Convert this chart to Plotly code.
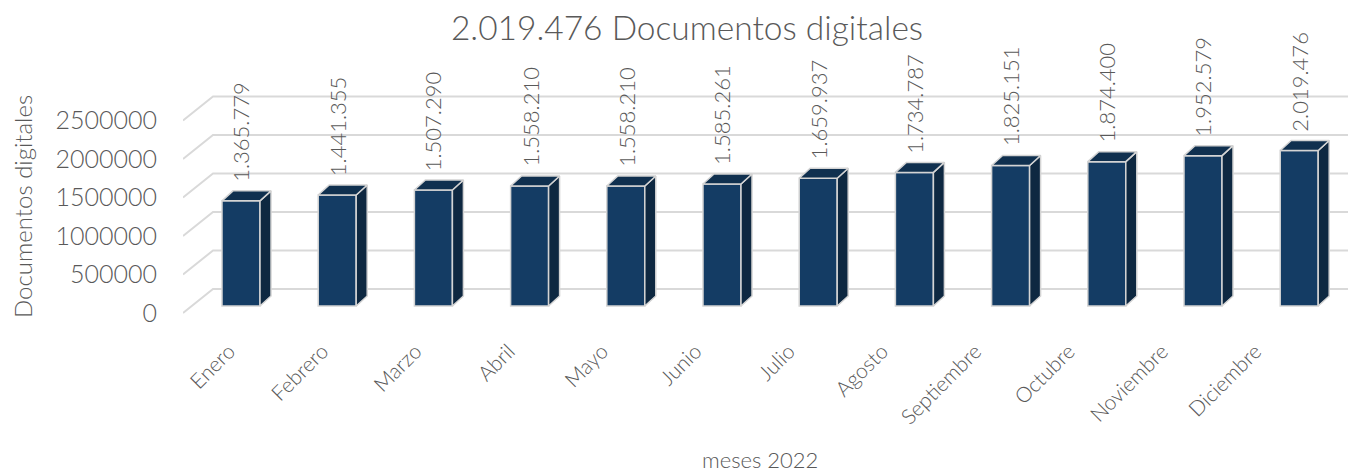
import plotly.graph_objects as go

# ---------------- data ----------------
months = ["Enero", "Febrero", "Marzo", "Abril", "Mayo", "Junio", "Julio",
          "Agosto", "Septiembre", "Octubre", "Noviembre", "Diciembre"]
documents = [1365779, 1441355, 1507290, 1558210, 1558210, 1585261, 1659937,
             1734787, 1825151, 1874400, 1952579, 2019476]
y_ticks = [0, 500000, 1000000, 1500000, 2000000, 2500000]

title_text = "2.019.476 Documentos digitales"
y_title = "Documentos digitales"
x_title = "meses 2022"

# ---------------- style / geometry ----------------
FONT = "Lato"
TXT = "#595959"
GRID = "#D9D9D9"
FRONT = "#143C64"
SIDE = "#0E2841"
TOP = "#10304F"
EDGE = "#D4D4D4"

OFF = 8                      # page body margin of the html page
W, H = 1356 - OFF, 473 - OFF
PLOT_LEFT, PLOT_RIGHT, PLOT_TOP, PLOT_BOTTOM = 183, 1356, 40, 322   # page pixels
L = PLOT_LEFT - OFF
R = W - (PLOT_RIGHT - OFF)
T = PLOT_TOP - OFF
B = H - (PLOT_BOTTOM - OFF)
PW, PH = W - L - R, H - T - B

PX_PER_UNIT_Y = 77e-6      # pixels per document
PX_PER_CAT = 96.2           # pixels per category
FIRST_BAR = 241             # page pixel of first bar centre
ZERO_Y = 313                # page pixel of value 0 on the front wall

def py(px):   # pixel offset -> y data units
    return px / PX_PER_UNIT_Y
def pxc(px):  # pixel offset -> x data units
    return px / PX_PER_CAT

bar_w = pxc(38)
depth_x = pxc(11)
depth_y = py(10)
bar_base = py(7)
wall_dx = pxc(30)
wall_dy = py(24)

x_left = pxc(PLOT_LEFT - FIRST_BAR)
x_right = pxc(PLOT_RIGHT - FIRST_BAR)
y_min = -py(PLOT_BOTTOM - ZERO_Y)
y_max = py(ZERO_Y - PLOT_TOP)

idx = list(range(len(months)))

def fmt(v):
    return f"{v:,}".replace(",", ".")

def paper_x(px):   # page pixel -> paper
    return (px - PLOT_LEFT) / PW
def paper_y(px):
    return (PLOT_BOTTOM - px) / PH

fig = go.Figure()

# front faces
fig.add_trace(go.Bar(
    x=idx, y=documents, base=bar_base, width=bar_w,
    marker=dict(color=FRONT, line=dict(color=EDGE, width=1.5)),
    hoverinfo="skip", showlegend=False))

# side faces
sx, sy = [], []
for i, v in zip(idx, documents):
    r = i + bar_w / 2
    top = bar_base + v
    sx += [r, r, r + depth_x, r + depth_x, r, None]
    sy += [bar_base, top, top + depth_y, bar_base + depth_y, bar_base, None]
fig.add_trace(go.Scatter(x=sx, y=sy, mode="lines", fill="toself",
                         fillcolor=SIDE, line=dict(color=EDGE, width=1.5),
                         hoverinfo="skip", showlegend=False))
# top faces
tx, ty = [], []
for i, v in zip(idx, documents):
    l = i - bar_w / 2
    r = i + bar_w / 2
    top = bar_base + v
    tx += [l, r, r + depth_x, l + depth_x, l, None]
    ty += [top, top, top + depth_y, top + depth_y, top, None]
fig.add_trace(go.Scatter(x=tx, y=ty, mode="lines", fill="toself",
                         fillcolor=TOP, line=dict(color=EDGE, width=1.5),
                         hoverinfo="skip", showlegend=False))

# gridlines (left wall diagonal + back wall horizontal)
shapes = []
for t in y_ticks:
    shapes.append(dict(type="path", xref="x", yref="y", layer="below",
                       path=f"M {x_left},{t} L {x_left + wall_dx},{t + wall_dy} L {x_right},{t + wall_dy}",
                       line=dict(color=GRID, width=2)))

# data labels
annotations = []
for i, v in zip(idx, documents):
    annotations.append(dict(x=i, y=bar_base + v + depth_y, xref="x", yref="y",
                            text=fmt(v), textangle=-90, showarrow=False,
                            xanchor="center", yanchor="bottom", yshift=7,
                            font=dict(family=FONT, size=22, color=TXT, weight=300)))

# axis titles
annotations.append(dict(x=paper_x(22), y=paper_y(207), xref="paper", yref="paper",
                        text=y_title, textangle=-90, showarrow=False,
                        xanchor="center", yanchor="middle",
                        font=dict(family=FONT, size=24, color=TXT, weight=300)))
annotations.append(dict(x=paper_x(760), y=paper_y(459), xref="paper", yref="paper",
                        text=x_title, showarrow=False,
                        xanchor="center", yanchor="middle",
                        font=dict(family=FONT, size=22, color=TXT, weight=300)))

# second x axis for the category labels (slight perspective compression)
lab_scale = 93.3
lab_start = 229          # page pixel of first label anchor
lab_r0 = (PLOT_LEFT - lab_start) / lab_scale
lab_r1 = lab_r0 + PW / lab_scale
fig.add_trace(go.Scatter(x=idx, y=[None] * len(idx), xaxis="x2", mode="markers",
                         hoverinfo="skip", showlegend=False))

fig.update_layout(
    width=W, height=H,
    margin=dict(l=L, r=R, t=T, b=B, autoexpand=False),
    paper_bgcolor="white", plot_bgcolor="white",
    font=dict(family=FONT, color=TXT, weight=300),
    title=dict(text=title_text, x=(687 - OFF) / W, xanchor="center",
               y=1 - (28 - OFF) / H, yanchor="middle",
               font=dict(family=FONT, size=33.5, color=TXT, weight=300)),
    xaxis=dict(range=[x_left, x_right], showgrid=False, zeroline=False,
               showline=False, showticklabels=False, ticks="", automargin=False),
    xaxis2=dict(overlaying="x", side="bottom", range=[lab_r0, lab_r1],
                tickvals=idx, ticktext=months, tickangle=-45,
                showgrid=False, zeroline=False, showline=False, ticks="",
                ticklabelstandoff=12, automargin=False,
                tickfont=dict(family=FONT, size=21, color=TXT, weight=300)),
    yaxis=dict(range=[y_min, y_max], tickvals=y_ticks, ticktext=[str(t) for t in y_ticks],
               showgrid=False, zeroline=False, showline=False, ticks="",
               ticklabelstandoff=25, automargin=False,
               tickfont=dict(family=FONT, size=25, color=TXT, weight=300)),
    shapes=shapes, annotations=annotations,
)

fig.write_html("out.html")
